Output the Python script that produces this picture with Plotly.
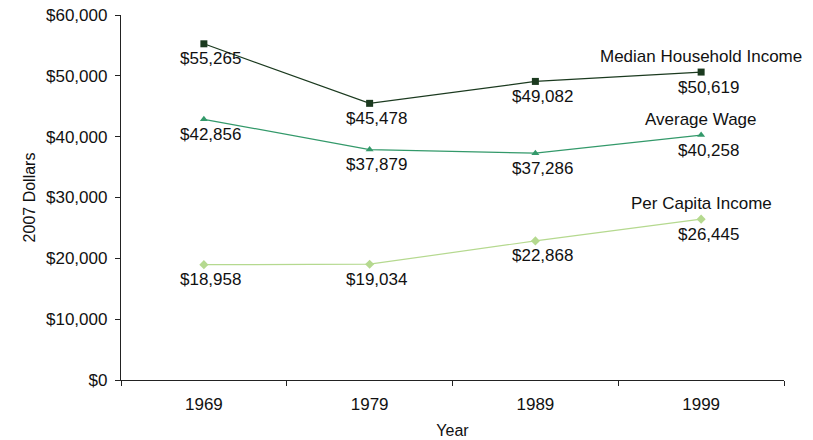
import plotly.graph_objects as go

years = ["1969", "1979", "1989", "1999"]
median_income = [55265, 45478, 49082, 50619]
average_wage = [42856, 37879, 37286, 40258]
per_capita = [18958, 19034, 22868, 26445]
series_names = ["Median Household Income", "Average Wage", "Per Capita Income"]
y_ticks = [0, 10000, 20000, 30000, 40000, 50000, 60000]

colors = ["#1b3a1f", "#33996a", "#b5d98f"]
symbols = ["square", "triangle-up", "diamond"]
font = "Liberation Sans, Arial, sans-serif"

fig = go.Figure()
for name, vals, c, s in zip(series_names, [median_income, average_wage, per_capita], colors, symbols):
    fig.add_trace(go.Scatter(
        x=years, y=vals, name=name, mode="lines+markers",
        line=dict(color=c, width=1.2),
        marker=dict(symbol=s, size=7, color=c),
        cliponaxis=False,
        showlegend=False,
    ))
    for i, v in enumerate(vals):
        fig.add_annotation(x=i, y=v, text=f"${v:,}", showarrow=False,
                           xshift=7, yshift=-15, xref="x", yref="y",
                           font=dict(family=font, size=17, color="#111111"))
    fig.add_annotation(x=len(years) - 1, y=vals[-1], text=name, showarrow=False,
                       yshift=16, xshift=0, xref="x", yref="y",
                       font=dict(family=font, size=17, color="#111111"))

fig.update_layout(
    width=813, height=440,
    margin=dict(l=121, r=29, t=15, b=60),
    paper_bgcolor="white", plot_bgcolor="white",
    font=dict(family=font, size=17, color="#111111"),
)
fig.update_xaxes(
    type="category", range=[-0.5, 3.5], tickson="boundaries",
    showline=True, linecolor="#222222", linewidth=1.3,
    ticks="outside", ticklen=5, tickcolor="#222222",
    tickfont=dict(family=font, size=17, color="#111111"),
    ticklabelstandoff=8,
    showgrid=False, zeroline=False, automargin=False,
    title=dict(text="Year", standoff=12, font=dict(size=16)),
)
fig.update_yaxes(
    range=[0, 60000], tickvals=y_ticks,
    ticktext=[f"${v:,}" for v in y_ticks],
    showline=True, linecolor="#222222", linewidth=1.3,
    ticks="outside", ticklen=5, tickcolor="#222222",
    tickfont=dict(family=font, size=17, color="#111111"),
    ticklabelstandoff=4, ticklabeloverflow="allow",
    showgrid=False, zeroline=False, automargin=False,
    title=dict(text="2007 Dollars", standoff=6, font=dict(size=16)),
)
fig.write_html("out.html", config={"displayModeBar": False},
               post_script="document.body.style.margin='0';")
